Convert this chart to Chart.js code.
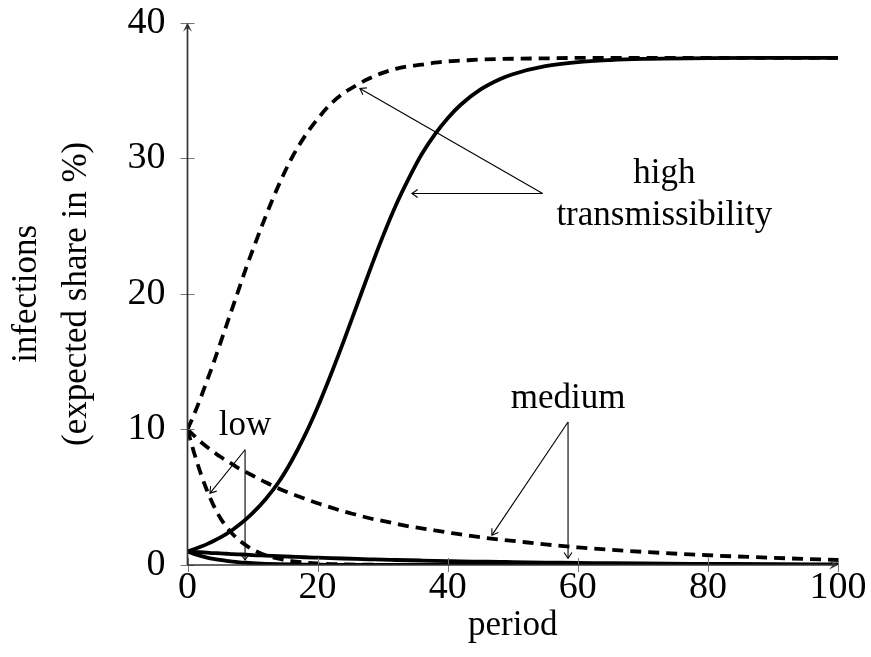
<!DOCTYPE html>
<html>
<head>
<meta charset="utf-8">
<script src="https://cdn.jsdelivr.net/npm/chart.js@4/dist/chart.umd.min.js"></script>
<style>
  html, body { margin: 0; background: #fff; }
</style>
</head>
<body>
<canvas id="chart" width="871" height="657"></canvas>
<script>
// periods shared by all six curves
var periods = [0, 1, 2, 3, 4, 5, 6, 7, 8, 9, 10, 12, 14, 16, 18, 20, 22, 24, 26, 28, 30,
  32, 34, 36, 38, 40, 42, 45, 48, 50, 55, 60, 65, 70, 80, 90, 100];

// high transmissibility
var highStart10 = [10.0, 11.1, 12.3, 13.6, 14.9, 16.3, 17.7, 19.1, 20.5, 21.9, 23.2, 25.7, 28.0, 30.0, 31.6, 32.9,
  34.0, 34.8, 35.4, 35.9, 36.3, 36.6, 36.8, 36.9, 37.05, 37.15, 37.2, 37.28, 37.32, 37.34, 37.37, 37.4, 37.4, 37.4, 37.4, 37.4, 37.4];
var highStart1 = [1.0, 1.16, 1.34, 1.54, 1.77, 2.02, 2.3, 2.62, 2.98, 3.38, 3.82, 4.85, 6.1, 7.67, 9.52, 11.64,
  14.0, 16.5, 19.1, 21.7, 24.2, 26.5, 28.5, 30.3, 31.75, 32.96, 33.95, 35.06, 35.83, 36.2, 36.79, 37.1, 37.25, 37.33, 37.39, 37.4, 37.4];

// medium transmissibility
var mediumStart10 = [10, 9.55, 9.1, 8.7, 8.35, 8.0, 7.7, 7.4, 7.1, 6.85, 6.6, 6.1, 5.65, 5.25, 4.9, 4.55,
  4.25, 3.95, 3.7, 3.45, 3.25, 3.05, 2.85, 2.7, 2.55, 2.4, 2.25, 2.05, 1.88, 1.78, 1.52, 1.3, 1.12, 0.97, 0.72, 0.53, 0.37];
var mediumStart1 = [1, 0.97, 0.94, 0.91, 0.88, 0.86, 0.83, 0.8, 0.78, 0.76, 0.73, 0.69, 0.65, 0.61, 0.57, 0.54,
  0.51, 0.48, 0.45, 0.42, 0.39, 0.37, 0.35, 0.33, 0.31, 0.29, 0.27, 0.25, 0.23, 0.21, 0.18, 0.16, 0.13, 0.11, 0.084, 0.061, 0.045];

// low transmissibility
var lowStart10 = [10, 8.3, 6.8, 5.5, 4.4, 3.5, 2.8, 2.25, 1.8, 1.45, 1.15, 0.72, 0.46, 0.29, 0.18, 0.11,
  0.07, 0.045, 0.03, 0.02, 0.013, 0.008, 0.005, 0.003, 0.002, 0.001, 0, 0, 0, 0, 0, 0, 0, 0, 0, 0, 0];
var lowStart1 = [1, 0.82, 0.67, 0.55, 0.45, 0.37, 0.3, 0.25, 0.2, 0.165, 0.135, 0.09, 0.06, 0.04, 0.027, 0.018,
  0.012, 0.008, 0.005, 0.004, 0.0025, 0, 0, 0, 0, 0, 0, 0, 0, 0, 0, 0, 0, 0, 0, 0, 0];

// annotations, in data units
var noteLabels = [
  { text: 'high', x: 73.3, y: 28.2 },
  { text: 'transmissibility', x: 73.3, y: 25.1 },
  { text: 'medium', x: 58.5, y: 11.6 },
  { text: 'low', x: 8.85, y: 9.6 }
];
var noteArrows = [
  { from: [54.6, 27.4], to: [26.5, 35.15] },
  { from: [54.6, 27.4], to: [34.5, 27.4] },
  { from: [58.5, 10.55], to: [46.8, 2.2] },
  { from: [58.5, 10.55], to: [58.5, 0.5] },
  { from: [8.85, 8.5], to: [3.46, 5.3] },
  { from: [8.85, 8.5], to: [8.85, 0.37] }
];

var serif = '"Liberation Serif", "Times New Roman", serif';

function pts(vals) {
  return periods.map(function (p, i) { return { x: p, y: vals[i] }; });
}

function curve(vals, dashed) {
  return {
    data: pts(vals),
    borderColor: '#000',
    borderWidth: 3.8,
    borderDash: dashed ? [11, 7] : [],
    borderCapStyle: 'butt',
    pointRadius: 0,
    fill: false,
    cubicInterpolationMode: 'monotone'
  };
}

function arrowHead(ctx, x, y, ang, len, spread) {
  ctx.beginPath();
  ctx.moveTo(x - len * Math.cos(ang - spread), y - len * Math.sin(ang - spread));
  ctx.lineTo(x, y);
  ctx.lineTo(x - len * Math.cos(ang + spread), y - len * Math.sin(ang + spread));
  ctx.stroke();
}

var axesAndNotes = {
  id: 'axesAndNotes',
  afterDatasetsDraw: function (chart) {
    var ctx = chart.ctx, xs = chart.scales.x, ys = chart.scales.y;
    var x0 = xs.getPixelForValue(0), x1 = xs.getPixelForValue(100);
    var y0 = ys.getPixelForValue(0), y1 = ys.getPixelForValue(40);
    ctx.save();

    // tick marks across the axes
    ctx.strokeStyle = '#777';
    ctx.lineWidth = 1;
    xs.ticks.forEach(function (t) {
      var px = Math.round(xs.getPixelForValue(t.value)) + 0.5;
      ctx.beginPath(); ctx.moveTo(px, y0 - 7); ctx.lineTo(px, y0 + 7); ctx.stroke();
    });
    ys.ticks.forEach(function (t) {
      var py = Math.round(ys.getPixelForValue(t.value)) + 0.5;
      ctx.beginPath(); ctx.moveTo(x0 - 7, py); ctx.lineTo(x0 + 7, py); ctx.stroke();
    });

    // axis lines with arrows
    ctx.strokeStyle = '#333';
    ctx.fillStyle = '#333';
    ctx.lineWidth = 1.7;
    ctx.beginPath(); ctx.moveTo(x0, y0); ctx.lineTo(x0, y1 + 2); ctx.stroke();
    ctx.beginPath(); ctx.moveTo(x0, y0); ctx.lineTo(x1 - 2, y0); ctx.stroke();
    [[x0, y1, -Math.PI / 2], [x1, y0, 0]].forEach(function (a) {
      var x = a[0], y = a[1], ang = a[2], c = Math.cos(ang), s = Math.sin(ang);
      ctx.beginPath();
      ctx.moveTo(x, y);
      ctx.lineTo(x - 9 * c + 4.5 * s, y - 9 * s - 4.5 * c);
      ctx.lineTo(x - 5 * c, y - 5 * s);
      ctx.lineTo(x - 9 * c - 4.5 * s, y - 9 * s + 4.5 * c);
      ctx.closePath();
      ctx.fill();
    });

    // annotation arrows
    ctx.strokeStyle = '#000';
    ctx.lineWidth = 1.1;
    noteArrows.forEach(function (a) {
      var fx = xs.getPixelForValue(a.from[0]), fy = ys.getPixelForValue(a.from[1]);
      var tx = xs.getPixelForValue(a.to[0]), ty = ys.getPixelForValue(a.to[1]);
      ctx.beginPath(); ctx.moveTo(fx, fy); ctx.lineTo(tx, ty); ctx.stroke();
      arrowHead(ctx, tx, ty, Math.atan2(ty - fy, tx - fx), 7, 0.6);
    });

    // annotation labels
    ctx.fillStyle = '#000';
    ctx.font = '35px ' + serif;
    ctx.textAlign = 'center';
    ctx.textBaseline = 'alphabetic';
    noteLabels.forEach(function (n) {
      ctx.fillText(n.text, xs.getPixelForValue(n.x), ys.getPixelForValue(n.y));
    });
    ctx.restore();
  }
};

new Chart(document.getElementById('chart').getContext('2d'), {
  type: 'line',
  data: {
    datasets: [
      curve(highStart10, true),
      curve(highStart1, false),
      curve(mediumStart10, true),
      curve(mediumStart1, false),
      curve(lowStart10, true),
      curve(lowStart1, false)
    ]
  },
  options: {
    responsive: false,
    animation: false,
    events: [],
    layout: { padding: { top: 22.7, right: 33, left: 0, bottom: 0 } },
    plugins: { legend: { display: false }, tooltip: { enabled: false } },
    scales: {
      x: {
        type: 'linear',
        min: 0,
        max: 100,
        grid: { display: false },
        border: { display: false },
        ticks: { stepSize: 20, padding: 0, color: '#000', font: { family: serif, size: 38, lineHeight: 0.8 } },
        title: { display: true, text: 'period', color: '#000', padding: { top: 0, bottom: 10 },
          font: { family: serif, size: 35, lineHeight: 1.2 } },
        afterFit: function (s) { s.height = 92; s.paddingLeft = 0; s.paddingRight = 0; }
      },
      y: {
        type: 'linear',
        min: 0,
        max: 40,
        grid: { display: false },
        border: { display: false },
        ticks: { stepSize: 10, padding: 14, color: '#000', font: { family: serif, size: 38, lineHeight: 1 } },
        title: { display: true, text: ['infections', '(expected share in %)'], color: '#000',
          padding: { top: 2, bottom: 0 }, font: { family: serif, size: 35, lineHeight: 1.42 } },
        afterFit: function (s) { s.width = 187.5; s.paddingTop = 0; s.paddingBottom = 0; }
      }
    }
  },
  plugins: [axesAndNotes]
});
</script>
</body>
</html>
